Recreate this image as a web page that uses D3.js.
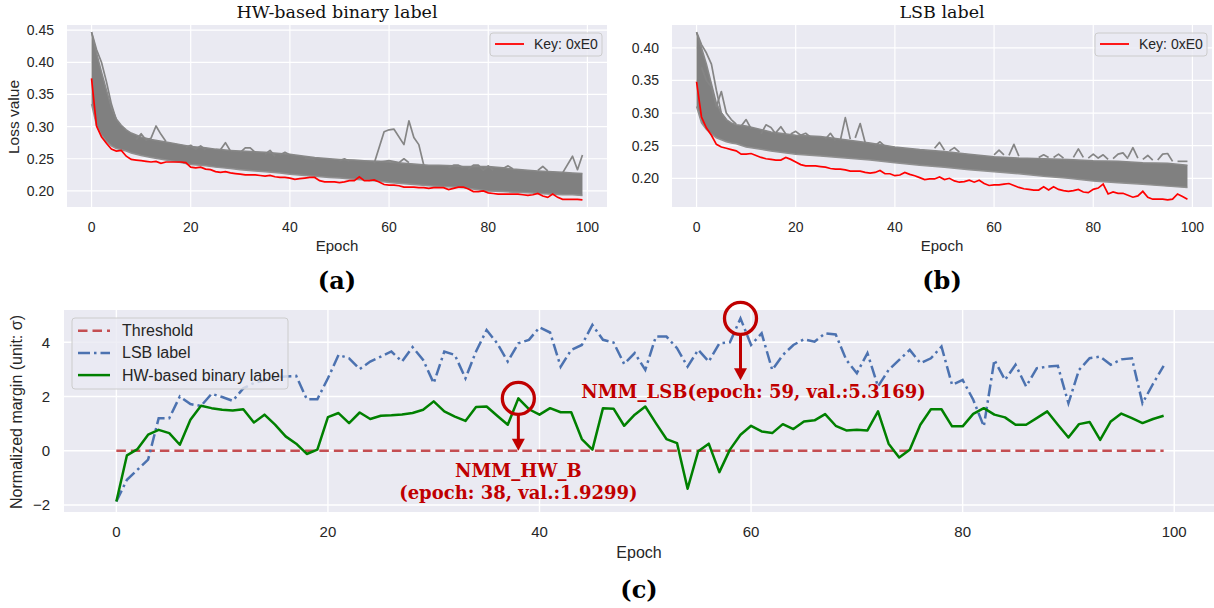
<!DOCTYPE html>
<html><head><meta charset="utf-8">
<script src="https://cdn.jsdelivr.net/npm/d3@7"></script>
<style>body{margin:0;background:#fff}svg{display:block}</style>
</head><body>
<svg id="chart" width="1214" height="608"></svg>
<script>
// ---------------- DATA ----------------
const xTicks = [0, 20, 40, 60, 80, 100];
const yTicksA = [0.20, 0.25, 0.30, 0.35, 0.40, 0.45];
const yTicksB = [0.20, 0.25, 0.30, 0.35, 0.40];
const yTicksC = [-2, 0, 2, 4];
const titles = ["HW-based binary label", "LSB label"];
const panelLabels = ["(a)", "(b)", "(c)"];
const keyLabel = "Key: 0xE0";
const legendC = ["Threshold", "LSB label", "HW-based binary label"];

// red line (correct key) panel (a)
const redA = [0.375,0.301,0.284,0.274,0.265,0.262,0.263,0.254,0.249,0.248,
0.247,0.246,0.245,0.246,0.243,0.245,0.245,0.245,0.245,0.244,
0.237,0.236,0.237,0.234,0.233,0.230,0.229,0.230,0.228,0.227,
0.226,0.225,0.225,0.225,0.224,0.223,0.224,0.222,0.221,0.221,
0.220,0.218,0.219,0.220,0.221,0.221,0.216,0.214,0.214,0.214,
0.213,0.214,0.216,0.216,0.222,0.216,0.216,0.217,0.214,0.210,
0.209,0.209,0.208,0.206,0.206,0.206,0.205,0.205,0.204,0.205,
0.205,0.205,0.202,0.204,0.206,0.206,0.203,0.199,0.199,0.200,
0.197,0.196,0.195,0.195,0.195,0.195,0.195,0.194,0.193,0.194,
0.196,0.192,0.190,0.195,0.190,0.187,0.187,0.187,0.187,0.186];
// red line panel (b)
const redB = [0.348,0.294,0.277,0.266,0.252,0.248,0.246,0.244,0.242,0.237,
0.237,0.238,0.235,0.232,0.230,0.229,0.228,0.228,0.232,0.229,
0.225,0.221,0.219,0.219,0.219,0.218,0.217,0.215,0.214,0.214,
0.213,0.211,0.211,0.211,0.209,0.208,0.209,0.212,0.207,0.207,
0.204,0.205,0.209,0.206,0.204,0.201,0.198,0.199,0.199,0.202,
0.198,0.200,0.196,0.194,0.195,0.197,0.194,0.197,0.192,0.189,
0.190,0.190,0.191,0.192,0.189,0.186,0.184,0.183,0.182,0.182,
0.187,0.182,0.187,0.183,0.181,0.180,0.181,0.183,0.179,0.178,
0.183,0.185,0.191,0.176,0.179,0.177,0.177,0.174,0.171,0.173,
0.180,0.171,0.168,0.168,0.168,0.167,0.168,0.176,0.172,0.168];

// gray band of wrong keys (envelope) panel (a)
const bandEpA = [0,1,2,3,4,5,6,7,8,10,12,15,18,20,23,25,28,30,33,35,38,40,43,45,48,50,53,55,58,60,63,65,68,70,73,75,78,80,83,85,88,90,93,95,97,99];
const bandTopA = [0.447,0.415,0.385,0.357,0.330,0.312,0.302,0.295,0.290,0.284,0.280,0.276,0.272,0.269,0.267,0.265,0.263,0.262,0.261,0.260,0.258,0.257,0.254,0.252,0.250,0.249,0.248,0.247,0.246,0.245,0.243,0.242,0.240,0.240,0.239,0.238,0.238,0.238,0.236,0.234,0.232,0.231,0.230,0.229,0.228,0.227];
const bandBotA = [0.335,0.302,0.287,0.277,0.270,0.266,0.264,0.262,0.259,0.255,0.252,0.248,0.244,0.241,0.239,0.237,0.235,0.233,0.231,0.230,0.228,0.226,0.224,0.223,0.221,0.220,0.218,0.217,0.215,0.213,0.211,0.210,0.208,0.207,0.206,0.205,0.202,0.200,0.199,0.198,0.197,0.196,0.195,0.194,0.194,0.193];
const outliersA = [
 [[0,0.447],[1,0.42],[2,0.40],[3,0.37],[4,0.335],[5,0.31]],
 [[9,0.280],[10,0.289],[11,0.279],[12,0.282],[13,0.301],[14,0.288],[15,0.277]],
 [[19,0.268],[20,0.271],[21,0.265],[22,0.270],[23,0.264]],
 [[26,0.264],[27,0.275],[28,0.262]],
 [[30,0.260],[31,0.267],[32,0.267],[33,0.260]],
 [[35,0.257],[36,0.263],[37,0.254]],
 [[38,0.256],[39,0.260],[40,0.256]],
 [[43,0.251],[44,0.250],[45,0.249]],
 [[50,0.247],[51,0.250],[52,0.246]],
 [[57,0.243],[59,0.292],[60,0.295],[61,0.296],[63,0.272],[64,0.309],[65,0.283],[66,0.272],[67,0.240]],
 [[58,0.245],[60,0.247],[62,0.244],[63,0.250],[64,0.244]],
 [[72,0.236],[73,0.240],[74,0.240],[75,0.236]],
 [[76,0.234],[77,0.240],[78,0.240],[79,0.232],[80,0.239],[81,0.232]],
 [[83,0.235],[84,0.239],[85,0.234]],
 [[90,0.232],[91,0.238],[92,0.231]],
 [[95,0.228],[97,0.254],[98,0.233],[99,0.256]]
];
// panel (b)
const bandEpB = [0,1,2,3,4,5,6,7,8,10,15,20,25,30,35,40,45,50,55,60,65,70,75,80,85,90,95,99];
const bandTopB = [0.424,0.400,0.375,0.345,0.315,0.300,0.290,0.285,0.282,0.280,0.271,0.266,0.264,0.259,0.254,0.248,0.244,0.241,0.237,0.233,0.231,0.230,0.229,0.227,0.226,0.224,0.223,0.220];
const bandBotB = [0.310,0.285,0.275,0.268,0.262,0.259,0.256,0.254,0.253,0.248,0.242,0.237,0.234,0.231,0.228,0.224,0.220,0.217,0.213,0.210,0.207,0.203,0.200,0.196,0.193,0.191,0.188,0.186];
const outliersB = [
 [[0,0.424],[1,0.405],[2,0.392],[3,0.375],[4,0.335],[5,0.300],[6,0.290]],
 [[1,0.37],[2,0.35],[3,0.34],[4,0.31],[5,0.333],[6,0.300],[7,0.290],[8,0.283]],
 [[9,0.280],[10,0.290],[11,0.276]],
 [[13,0.268],[14,0.282],[15,0.278],[16,0.268]],
 [[16,0.270],[17,0.279],[18,0.268]],
 [[19,0.268],[20,0.272],[21,0.266],[22,0.269],[23,0.263]],
 [[26,0.260],[27,0.269],[28,0.258]],
 [[29,0.258],[30,0.293],[31,0.260]],
 [[32,0.262],[33,0.284],[34,0.255]],
 [[36,0.250],[37,0.256],[38,0.249]],
 [[48,0.246],[49,0.255],[50,0.243]],
 [[51,0.242],[52,0.247],[53,0.240]],
 [[60,0.236],[61,0.243],[62,0.236]],
 [[63,0.235],[64,0.252],[65,0.234]],
 [[69,0.232],[70,0.236],[71,0.232]],
 [[72,0.232],[73,0.237],[74,0.231]],
 [[76,0.232],[77,0.245],[78,0.232]],
 [[79,0.231],[80,0.237],[81,0.231],[82,0.236],[83,0.229]],
 [[84,0.230],[85,0.237],[86,0.239],[87,0.230]],
 [[87,0.232],[88,0.247],[89,0.231]],
 [[90,0.229],[91,0.235],[92,0.228]],
 [[93,0.228],[94,0.237],[95,0.238],[96,0.226]],
 [[97,0.226],[98,0.226],[99,0.226]]
];

// panel (c): normalized margin
const hwMargin = [-1.87,-0.17,0.06,0.59,0.77,0.65,0.22,1.14,1.66,1.57,
1.51,1.48,1.53,1.04,1.33,0.96,0.53,0.26,-0.12,0.04,
1.24,1.39,1.02,1.41,1.17,1.29,1.31,1.34,1.39,1.51,
1.82,1.45,1.26,1.10,1.61,1.63,1.29,0.96,1.93,1.53,
1.33,1.57,1.42,1.42,0.43,0.04,1.57,1.55,0.92,1.33,
1.63,1.02,0.43,0.28,-1.40,-0.02,0.26,-0.79,0.04,0.59,
0.92,0.71,0.65,0.98,0.80,1.08,1.12,1.35,0.92,0.75,
0.77,0.75,1.45,0.26,-0.25,0.04,0.96,1.53,1.53,0.90,
0.90,1.36,1.57,1.33,1.23,0.96,0.96,1.20,1.45,0.96,
0.49,0.98,1.06,0.40,1.08,1.37,1.20,1.02,1.17,1.29];
const lsbMargin = [-1.87,-1.07,-0.70,-0.33,1.20,1.20,2.00,1.72,1.65,2.10,
1.98,1.84,2.30,2.50,2.60,2.70,2.74,2.76,1.90,1.90,
2.67,3.53,3.41,3.01,3.29,3.47,3.66,3.29,3.82,3.35,
2.49,3.66,3.53,2.67,3.66,4.45,3.96,3.29,3.96,4.09,
4.55,4.36,3.10,3.72,3.90,4.64,4.09,3.99,3.20,3.60,
2.98,4.21,4.21,3.78,3.10,3.72,3.29,3.96,4.00,4.88,
3.90,4.33,2.98,3.53,3.90,4.11,4.02,4.33,4.29,3.35,
2.86,3.60,2.37,2.98,3.35,3.72,3.23,3.41,3.84,2.43,
2.61,1.88,0.90,3.35,2.61,3.17,2.37,3.04,3.10,3.13,
1.75,2.98,3.41,3.47,3.17,3.37,3.41,1.75,2.47,3.13];
const thresholdVal = 0;
const annotations = [
  {epoch: 38, series: "hw", tip: 0, lines: ["NMM_HW_B", "(epoch: 38, val.:1.9299)"]},
  {epoch: 59, series: "lsb", tip: 2.6, lines: ["NMM_LSB(epoch: 59, val.:5.3169)"]}
];

// ---------------- DRAW ----------------
const svg = d3.select("#chart");
const epochs = d3.range(redA.length);
const BG = "#eaeaf2", TXT = "#262626";
const sans = "'Liberation Sans', Arial, sans-serif";
const serif = "'DejaVu Serif', serif";

function drawTop(o) {
  const x = d3.scaleLinear().domain([-4.95, 103.95]).range([o.x0, o.x1]);
  const y = d3.scaleLinear().domain(o.ydom).range([207, 25]);
  const g = svg.append("g");
  const clipId = "clip" + o.id;
  svg.append("clipPath").attr("id", clipId).append("rect")
    .attr("x", o.x0).attr("y", 25).attr("width", o.x1 - o.x0).attr("height", 182);
  g.append("rect").attr("x", o.x0).attr("y", 25).attr("width", o.x1 - o.x0).attr("height", 182).attr("fill", BG);
  g.selectAll(".gx").data(xTicks).join("line").attr("x1", d => x(d)).attr("x2", d => x(d))
    .attr("y1", 25).attr("y2", 207).attr("stroke", "#fff").attr("stroke-width", 1.2);
  g.selectAll(".gy").data(o.yticks).join("line").attr("y1", d => y(d)).attr("y2", d => y(d))
    .attr("x1", o.x0).attr("x2", o.x1).attr("stroke", "#fff").attr("stroke-width", 1.2);
  const p = g.append("g").attr("clip-path", `url(#${clipId})`);
  const band = o.bandEp.map((e, i) => ({e, t: o.bandTop[i], b: o.bandBot[i]}));
  p.append("path").datum(band).attr("fill", "#808080")
    .attr("d", d3.area().x(d => x(d.e)).y0(d => y(d.b)).y1(d => y(d.t)));
  p.append("path").datum(band).attr("fill", "none").attr("stroke", "#888").attr("stroke-width", 1.5)
    .attr("d", d3.line().x(d => x(d.e)).y(d => y(d.t)));
  p.append("path").datum(band).attr("fill", "none").attr("stroke", "#909090").attr("stroke-width", 1.5)
    .attr("d", d3.line().x(d => x(d.e)).y(d => y(d.b)));
  p.selectAll(".ol").data(o.outliers).join("path").attr("fill", "none")
    .attr("stroke", "#858585").attr("stroke-width", 1.7).attr("stroke-linejoin", "round")
    .attr("d", d3.line().x(d => x(d[0])).y(d => y(d[1])));
  p.append("path").datum(o.red).attr("fill", "none").attr("stroke", "#ff0000").attr("stroke-width", 1.7)
    .attr("d", d3.line().x((d, i) => x(epochs[i])).y(d => y(d)));
  // tick labels
  g.selectAll(".tx").data(xTicks).join("text").attr("x", d => x(d)).attr("y", 232)
    .attr("text-anchor", "middle").attr("font-family", sans).attr("font-size", 14).attr("fill", TXT).text(d => d);
  g.selectAll(".ty").data(o.yticks).join("text").attr("x", o.x0 - 13).attr("y", d => y(d) + 5)
    .attr("text-anchor", "end").attr("font-family", sans).attr("font-size", 14).attr("fill", TXT).text(d => d3.format(".2f")(d));
  g.append("text").attr("x", (o.x0 + o.x1) / 2).attr("y", 251).attr("text-anchor", "middle")
    .attr("font-family", sans).attr("font-size", 15).attr("fill", TXT).text("Epoch");
  if (o.ylabel) g.append("text").attr("transform", `translate(19,117) rotate(-90)`).attr("text-anchor", "middle")
    .attr("font-family", sans).attr("font-size", 15.5).attr("fill", TXT).text(o.ylabel);
  g.append("text").attr("x", (o.x0 + o.x1) / 2).attr("y", 18).attr("text-anchor", "middle")
    .attr("font-family", serif).attr("font-size", 17.5).attr("fill", "#111").text(o.title);
  g.append("text").attr("x", (o.x0 + o.x1) / 2).attr("y", 289).attr("text-anchor", "middle")
    .attr("font-family", serif).attr("font-weight", "bold").attr("font-size", 24).attr("fill", "#000").text(o.label);
  // legend
  const lx = o.x1 - 117;
  g.append("rect").attr("x", lx).attr("y", 33).attr("width", 112).attr("height", 23).attr("rx", 3)
    .attr("fill", "rgba(234,234,242,0.8)").attr("stroke", "#cccccc").attr("stroke-width", 1);
  g.append("line").attr("x1", lx + 5).attr("x2", lx + 34).attr("y1", 44).attr("y2", 44)
    .attr("stroke", "#ff0000").attr("stroke-width", 1.8);
  g.append("text").attr("x", lx + 44).attr("y", 49).attr("font-family", sans).attr("font-size", 14)
    .attr("fill", TXT).text(keyLabel);
}

drawTop({id: "a", x0: 67, x1: 607, ydom: [0.175, 0.458], yticks: yTicksA, red: redA,
  bandEp: bandEpA, bandTop: bandTopA, bandBot: bandBotA, outliers: outliersA,
  ylabel: "Loss value", title: titles[0], label: panelLabels[0]});
drawTop({id: "b", x0: 672, x1: 1212, ydom: [0.156, 0.435], yticks: yTicksB, red: redB,
  bandEp: bandEpB, bandTop: bandTopB, bandBot: bandBotB, outliers: outliersB,
  ylabel: null, title: titles[1], label: panelLabels[1]});

// panel (c)
(function () {
  const x0 = 64, x1 = 1214, yT = 310, yB = 512;
  const x = d3.scaleLinear().domain([-4.95, 103.95]).range([64, 1216]);
  const y = d3.scaleLinear().domain([-2.26, 5.19]).range([yB, yT]);
  const g = svg.append("g");
  g.append("rect").attr("x", x0).attr("y", yT).attr("width", x1 - x0).attr("height", yB - yT).attr("fill", BG);
  g.selectAll(".gx").data(xTicks).join("line").attr("x1", d => x(d)).attr("x2", d => x(d))
    .attr("y1", yT).attr("y2", yB).attr("stroke", "#fff").attr("stroke-width", 1.4);
  g.selectAll(".gy").data(yTicksC).join("line").attr("y1", d => y(d)).attr("y2", d => y(d))
    .attr("x1", x0).attr("x2", x1).attr("stroke", "#fff").attr("stroke-width", 1.4);
  // threshold
  g.append("path").datum(epochs).attr("fill", "none").attr("stroke", "#c44e52").attr("stroke-width", 2.5)
    .attr("stroke-dasharray", "9.5,5").attr("d", d3.line().x(d => x(d)).y(() => y(thresholdVal)));
  g.append("path").datum(lsbMargin).attr("fill", "none").attr("stroke", "#4c72b0").attr("stroke-width", 2.5)
    .attr("stroke-dasharray", "12,4,2.5,4").attr("d", d3.line().x((d, i) => x(epochs[i])).y(d => y(d)));
  g.append("path").datum(hwMargin).attr("fill", "none").attr("stroke", "#008000").attr("stroke-width", 2.5)
    .attr("stroke-linejoin", "round").attr("d", d3.line().x((d, i) => x(epochs[i])).y(d => y(d)));
  // ticks
  g.selectAll(".tx").data(xTicks).join("text").attr("x", d => x(d)).attr("y", 537)
    .attr("text-anchor", "middle").attr("font-family", sans).attr("font-size", 15).attr("fill", TXT).text(d => d);
  g.selectAll(".ty").data(yTicksC).join("text").attr("x", 50).attr("y", d => y(d) + 5.5)
    .attr("text-anchor", "end").attr("font-family", sans).attr("font-size", 15).attr("fill", TXT)
    .text(d => d < 0 ? "\u2212" + Math.abs(d) : d);
  g.append("text").attr("x", (x0 + x1) / 2).attr("y", 558).attr("text-anchor", "middle")
    .attr("font-family", sans).attr("font-size", 16).attr("fill", TXT).text("Epoch");
  g.append("text").attr("transform", "translate(22,412) rotate(-90)").attr("text-anchor", "middle")
    .attr("font-family", sans).attr("font-size", 16).attr("fill", TXT).text("Normalized margin (unit: \u03c3)");
  g.append("text").attr("x", (x0 + x1) / 2).attr("y", 598).attr("text-anchor", "middle")
    .attr("font-family", serif).attr("font-weight", "bold").attr("font-size", 24).attr("fill", "#000").text(panelLabels[2]);
  // legend
  g.append("rect").attr("x", 72).attr("y", 318).attr("width", 216).attr("height", 71).attr("rx", 3)
    .attr("fill", "rgba(234,234,242,0.8)").attr("stroke", "#cccccc").attr("stroke-width", 1);
  const lstyles = [{c: "#c44e52", d: "9.5,5"}, {c: "#4c72b0", d: "12,4,2.5,4"}, {c: "#008000", d: null}];
  legendC.forEach((t, i) => {
    const ly = 330.7 + i * 22.2;
    g.append("line").attr("x1", 78).attr("x2", 110).attr("y1", ly).attr("y2", ly)
      .attr("stroke", lstyles[i].c).attr("stroke-width", 2.5).attr("stroke-dasharray", lstyles[i].d);
    g.append("text").attr("x", 122).attr("y", ly + 5.5).attr("font-family", sans).attr("font-size", 16)
      .attr("fill", TXT).text(t);
  });
  // annotations
  const AC = "#c00000";
  annotations.forEach(a => {
    const v = a.series === "hw" ? hwMargin[a.epoch] : lsbMargin[a.epoch];
    const cx = x(a.epoch), cy = y(v), r = 16;
    g.append("circle").attr("cx", cx).attr("cy", cy).attr("r", r).attr("fill", "none")
      .attr("stroke", AC).attr("stroke-width", 3.3);
    const ty = y(a.tip);
    g.append("line").attr("x1", cx).attr("x2", cx).attr("y1", cy + r).attr("y2", ty - 10)
      .attr("stroke", AC).attr("stroke-width", 3);
    g.append("path").attr("d", `M${cx - 6.5},${ty - 12} L${cx + 6.5},${ty - 12} L${cx},${ty} Z`).attr("fill", AC);
    if (a.series === "hw") {
      a.lines.forEach((t, i) => g.append("text").attr("x", cx).attr("y", ty + 26 + i * 22)
        .attr("text-anchor", "middle").attr("font-family", serif).attr("font-weight", "bold")
        .attr("font-size", 18).attr("fill", AC).text(t));
    } else {
      g.append("text").attr("x", cx + 13).attr("y", ty + 18).attr("text-anchor", "middle")
        .attr("font-family", serif).attr("font-weight", "bold").attr("font-size", 18).attr("fill", AC).text(a.lines[0]);
    }
  });
})();
</script>
</body></html>
